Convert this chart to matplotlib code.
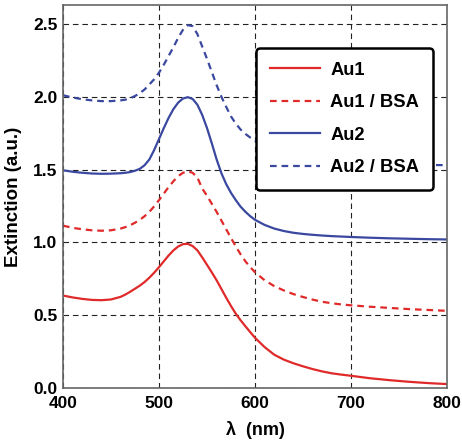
import matplotlib
matplotlib.use("Agg")
import matplotlib.pyplot as plt

wavelength = [400, 410, 420, 430, 440, 450, 460, 465, 470, 475, 480, 485, 490, 495,
              500, 505, 510, 515, 520, 525, 530, 535, 540, 545, 550, 555, 560, 565,
              570, 575, 580, 585, 590, 595, 600, 610, 620, 630, 640, 650, 660, 670,
              680, 690, 700, 720, 740, 760, 780, 800]

au1 = [0.635, 0.622, 0.612, 0.605, 0.603, 0.608, 0.626, 0.642, 0.661, 0.682, 0.703,
       0.728, 0.758, 0.792, 0.83, 0.87, 0.91, 0.945, 0.972, 0.988, 0.99, 0.975, 0.945,
       0.897, 0.846, 0.794, 0.74, 0.68, 0.62, 0.563, 0.51, 0.465, 0.424, 0.384, 0.345,
       0.281, 0.229, 0.195, 0.17, 0.149, 0.13, 0.114, 0.101, 0.092, 0.084, 0.067, 0.054,
       0.043, 0.034, 0.027]

au1_bsa = [1.115, 1.10, 1.09, 1.083, 1.08, 1.083, 1.095, 1.105, 1.118, 1.135, 1.155,
           1.18, 1.21, 1.248, 1.29, 1.335, 1.38, 1.42, 1.455, 1.478, 1.488, 1.478, 1.445,
           1.37, 1.32, 1.265, 1.21, 1.15, 1.09, 1.03, 0.972, 0.918, 0.87, 0.83, 0.795,
           0.74, 0.70, 0.67, 0.645, 0.625, 0.607, 0.592, 0.582, 0.574, 0.568, 0.558,
           0.55, 0.542, 0.536, 0.53]

au2 = [1.495, 1.485, 1.478, 1.473, 1.471, 1.472, 1.475, 1.478, 1.483, 1.492, 1.505,
       1.53, 1.57, 1.635, 1.71, 1.785, 1.855, 1.915, 1.96, 1.988, 1.997, 1.985, 1.945,
       1.875, 1.785, 1.68, 1.57, 1.475, 1.40, 1.34, 1.29, 1.245, 1.21, 1.18, 1.155,
       1.12, 1.095, 1.078, 1.066, 1.058, 1.052, 1.047, 1.043, 1.04, 1.037, 1.032,
       1.028, 1.025, 1.022, 1.02]

au2_bsa = [2.01, 1.995, 1.983, 1.975, 1.97, 1.97, 1.975, 1.98, 1.99, 2.005, 2.025,
           2.05, 2.085, 2.12, 2.165, 2.22, 2.28, 2.34, 2.405, 2.46, 2.492, 2.485, 2.43,
           2.345, 2.26, 2.17, 2.08, 2.00, 1.93, 1.865, 1.815, 1.775, 1.745, 1.72, 1.70,
           1.66, 1.63, 1.61, 1.595, 1.58, 1.57, 1.563, 1.557, 1.552, 1.548, 1.542,
           1.538, 1.535, 1.532, 1.53]

labels = ["Au1", "Au1 / BSA", "Au2", "Au2 / BSA"]
xticks = [400, 500, 600, 700, 800]
yticks = [0.0, 0.5, 1.0, 1.5, 2.0, 2.5]

plt.rcParams['font.family'] = ['Liberation Sans', 'DejaVu Sans']
plt.rcParams['font.weight'] = 'bold'

fig = plt.figure(figsize=(4.62, 4.46), dpi=100)
ax = fig.add_axes([0.1364, 0.130, 0.8311, 0.8588])

red = '#e02a2a'
blue = '#3a48a0'
ax.plot(wavelength, au1, color=red, lw=1.6, label=labels[0])
ax.plot(wavelength, au1_bsa, color=red, lw=1.6, linestyle=(0, (3, 2.2)), label=labels[1])
ax.plot(wavelength, au2, color=blue, lw=1.6, label=labels[2])
ax.plot(wavelength, au2_bsa, color=blue, lw=1.6, linestyle=(0, (3, 2.2)), label=labels[3])

ax.set_xlim(400, 800)
ax.set_ylim(0, 2.63)
ax.set_xticks(xticks)
ax.set_yticks(yticks)
ax.set_yticklabels([f"{v:.1f}" for v in yticks])
ax.tick_params(axis='y', length=0, labelsize=12.5, pad=4)
ax.tick_params(axis='x', length=0, labelsize=12.5, pad=6)
for lab in ax.get_xticklabels() + ax.get_yticklabels():
    lab.set_fontweight('bold')

ax.grid(True, color='#222222', linestyle=(0, (5, 3.5)), lw=0.8)
ax.set_axisbelow(True)
for s in ax.spines.values():
    s.set_color('#666666')
    s.set_linewidth(1.2)

ax.set_ylabel("Extinction (a.u.)", fontsize=13.5, fontweight='bold', labelpad=8)
ax.set_xlabel("λ  (nm)", fontsize=13, fontweight='bold', labelpad=7)

leg = ax.legend(loc='upper right', bbox_to_anchor=(0.9635, 0.888), fontsize=13.2,
                frameon=True, fancybox=True, handlelength=2.75, handletextpad=0.55,
                labelspacing=0.85, borderpad=0.75, borderaxespad=0)
leg.get_frame().set_edgecolor('black')
leg.get_frame().set_linewidth(1.8)
leg.get_frame().set_alpha(1)
for t in leg.get_texts():
    t.set_fontweight('bold')

fig.savefig("out.png", dpi=100)
